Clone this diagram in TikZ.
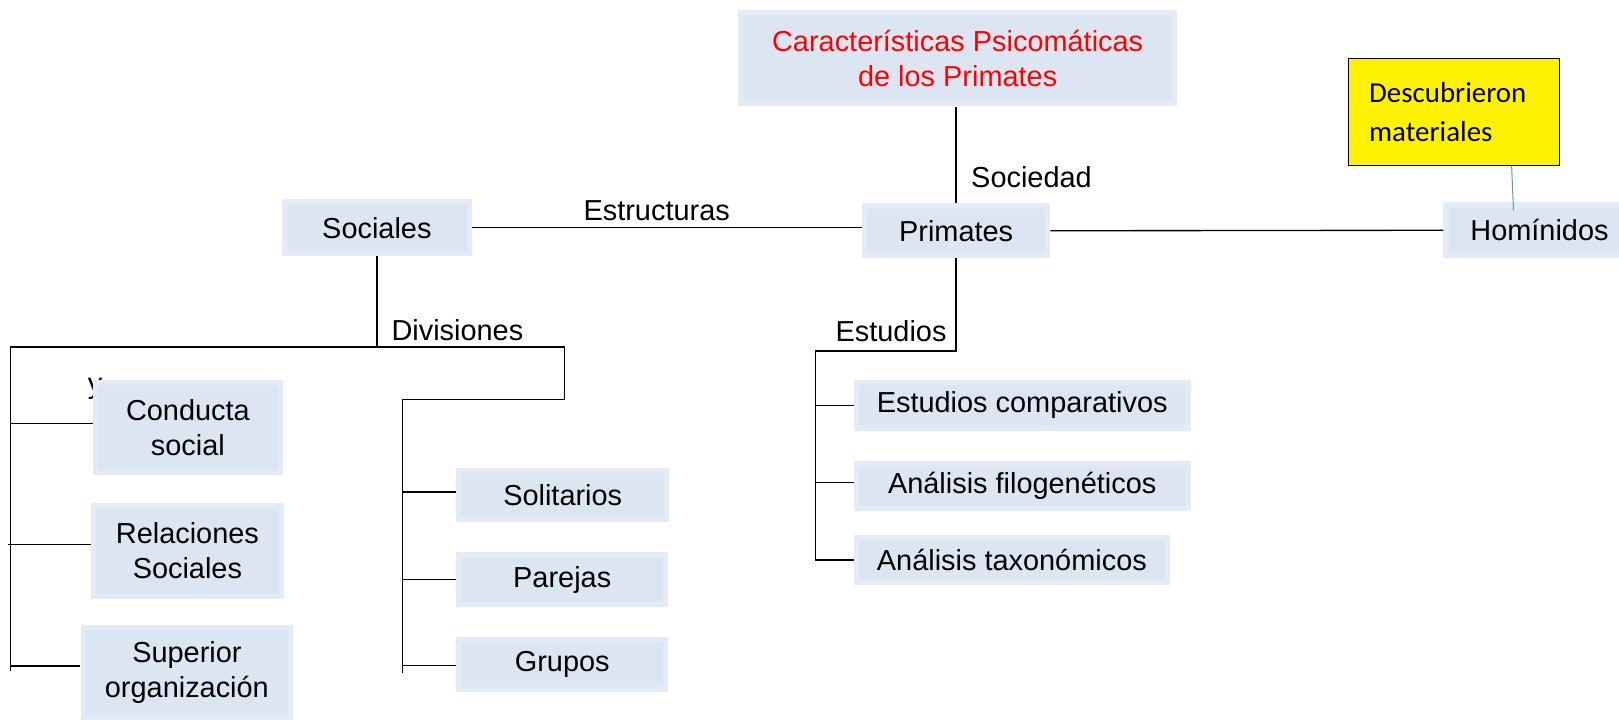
\documentclass[tikz,border=0pt]{standalone}
\usepackage{fontspec}
\setmainfont{Liberation Sans}
\newfontfamily\calib{Carlito}
\usetikzlibrary{calc}
\definecolor{boxout}{HTML}{E3EBF6}
\definecolor{boxin}{HTML}{DCE6F2}
\definecolor{thinblue}{HTML}{5B9BD5}
\begin{document}
\begin{tikzpicture}[x=1pt,y=-1pt,
  every node/.style={font=\fontsize{28}{34}\selectfont},
  bevbox/.style={rectangle, fill=boxout, inner sep=0pt, align=center,
    path picture={\fill[boxin] ([shift={(5pt,-5pt)}]path picture bounding box.north west) rectangle ([shift={(-5pt,5pt)}]path picture bounding box.south east);}},
  conn/.style={draw=black, line width=1.3pt},
  lbl/.style={inner sep=0pt}]
\clip (0,0) rectangle (1568,697);
\fill[white] (0,0) rectangle (1568,697);

% stray glyph partly hidden by the box
\node[lbl, anchor=base west] (ystray) at (85,381) {y};

% nodes
\node[bevbox, minimum width=425pt, minimum height=93pt, text=red] (title) at (927.5,56.5) {Características Psicomáticas\\de los Primates};
\node[bevbox, minimum width=182pt, minimum height=53pt] (prim) at (926,223.5) {Primates};
\node[bevbox, minimum width=184pt, minimum height=55pt] (soc) at (365,220.5) {Sociales};
\node[bevbox, minimum width=186pt, minimum height=54pt] (hom) at (1491,223) {Homínidos};
\node[draw=black, line width=1pt, fill=yellow, minimum width=204pt, minimum height=103pt, inner sep=0pt,
  align=left, text width=164pt, font=\calib\fontsize{28}{38}\selectfont] (yel) at (1408,108.5) {Descubrieron\\materiales};

\node[bevbox, minimum width=184pt, minimum height=92pt] (cond) at (182,414) {Conducta\\social};
\node[bevbox, minimum width=187pt, minimum height=93pt] (rel) at (181.5,533.5) {Relaciones\\Sociales};
\node[bevbox, minimum width=206pt, minimum height=92pt] (sup) at (181,651) {Superior\\organización};

\node[bevbox, minimum width=206pt, minimum height=53pt] (sol) at (545,479.5) {Solitarios};
\node[bevbox, minimum width=205pt, minimum height=53pt] (par) at (544.5,561.5) {Parejas};
\node[bevbox, minimum width=205pt, minimum height=53pt] (gru) at (544.5,643.5) {Grupos};

\node[bevbox, minimum width=326pt, minimum height=49pt] (est1) at (990,392.5) {Estudios comparativos};
\node[bevbox, minimum width=326pt, minimum height=49pt] (est2) at (990,470.5) {Análisis filogenéticos};
\node[bevbox, minimum width=306pt, minimum height=49pt] (est3) at (980,542.5) {Análisis taxonómicos};

% labels
\node[lbl] (lsoc) at (999,172) {Sociedad};
\node[lbl] (lestr) at (636,204) {Estructuras};
\node[lbl] (ldiv) at (443,320) {Divisiones};
\node[lbl] (lestu) at (863,321) {Estudios};

% helper coordinates
\coordinate (dl) at (10,336);
\coordinate (dr) at (547,336);
\coordinate (dr2) at (547,387);
\coordinate (gl) at (390,387);
\coordinate (gb) at (390,652);
\coordinate (lb) at (10,650);
\coordinate (ec) at (926,340);
\coordinate (el) at (790,340);
\coordinate (eb) at (790,543);

% connectors
\draw[conn] (prim.north) -- (prim.north |- title.south);
\draw[conn] (soc.east) -- (soc.east -| prim.west);
\draw[conn] (prim.east) -- (hom.west);
\draw[thinblue, line width=1pt] ($(yel.south)+(56,0)$) -- ($(hom.north west)+(68,8)$);

\draw[conn] (soc.south) -- (soc.south |- dl);
\draw[conn] (dl) -- (dr) -- (dr2) -- (gl) -- (gb);
\draw[conn] (dl) -- (lb);
\draw[conn] ([yshift=4pt]cond.west -| dl) -- ([yshift=4pt]cond.west);
\draw[conn] ([yshift=6pt]rel.west -| dl) ++(-2,0) -- ([yshift=6pt]rel.west);
\draw[conn] ([yshift=6pt]sup.west -| dl) -- ([yshift=6pt]sup.west);

\draw[conn] ([yshift=3pt]sol.west -| gl) -- ([yshift=3pt]sol.west);
\draw[conn] (par.west -| gl) -- (par.west);
\draw[conn] ([yshift=-1pt]gru.west -| gl) -- ([yshift=-1pt]gru.west);

\draw[conn] (prim.south) -- (ec) -- (el) -- (eb);
\draw[conn] (est1.west -| el) -- (est1.west);
\draw[conn] ([yshift=3pt]est2.west -| el) -- ([yshift=3pt]est2.west);
\draw[conn] (est3.west -| el) -- (est3.west);
\end{tikzpicture}
\end{document}
